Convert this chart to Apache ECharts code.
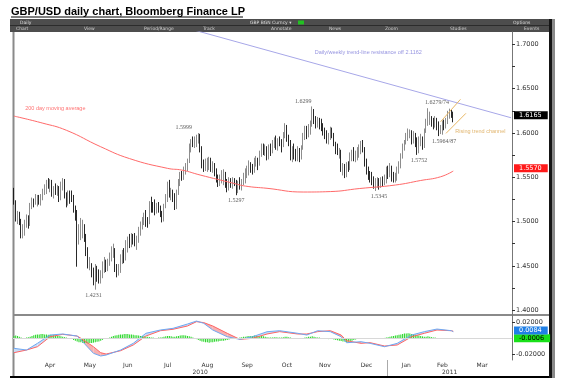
<!DOCTYPE html>
<html><head><meta charset="utf-8">
<script src="https://cdn.jsdelivr.net/npm/echarts@6/dist/echarts.min.js"></script>
<style>html,body{margin:0;padding:0;background:#fff}#c{width:569px;height:387px}</style>
</head><body><div id="c"></div>
<script>
// ---------------- DATA ----------------
const titleText = 'GBP/USD daily chart, Bloomberg Finance LP';
const firstDate = [2010, 2, 18];   // 18 Mar 2010 (weekday axis)
const slotCount = 276;             // weekdays shown on the axis (to early Apr 2011)
const firstOpen = 1.534;

// daily bars: [low, high, close]
const mar2010 = [[1.519,1.538,1.522],[1.500,1.524,1.503],[1.497,1.512,1.509],[1.496,1.511,1.500],[1.481,1.503,1.485],[1.481,1.497,1.489],[1.484,1.502,1.494],[1.493,1.508,1.503],[1.492,1.507,1.497],[1.495,1.521,1.518]];
const apr2010 = [[1.514,1.527,1.523],[1.516,1.526,1.520],[1.519,1.531,1.523],[1.517,1.530,1.527],[1.519,1.530,1.521],[1.518,1.531,1.529],[1.524,1.537,1.534],[1.530,1.542,1.536],[1.531,1.547,1.544],[1.537,1.549,1.541],[1.533,1.548,1.546],[1.528,1.547,1.531],[1.526,1.540,1.538],[1.530,1.543,1.535],[1.529,1.541,1.539],[1.522,1.540,1.526],[1.524,1.545,1.541],[1.535,1.549,1.543],[1.526,1.548,1.529],[1.516,1.533,1.519],[1.518,1.535,1.530],[1.520,1.535,1.529]];
const may2010 = [[1.522,1.535,1.527],[1.510,1.530,1.514],[1.501,1.518,1.508],[1.449,1.513,1.479],[1.474,1.497,1.479],[1.479,1.504,1.492],[1.481,1.502,1.494],[1.477,1.497,1.484],[1.461,1.486,1.465],[1.447,1.471,1.451],[1.445,1.460,1.452],[1.437,1.453,1.441],[1.428,1.448,1.433],[1.4231,1.452,1.446],[1.432,1.450,1.441],[1.430,1.446,1.437],[1.430,1.445,1.442],[1.436,1.455,1.447],[1.442,1.460,1.455],[1.443,1.457,1.448],[1.444,1.458,1.453]];
const jun2010 = [[1.450,1.465,1.461],[1.455,1.472,1.467],[1.459,1.475,1.468],[1.443,1.470,1.447],[1.437,1.452,1.442],[1.439,1.452,1.444],[1.442,1.463,1.456],[1.452,1.468,1.465],[1.453,1.470,1.459],[1.456,1.479,1.471],[1.465,1.483,1.478],[1.470,1.486,1.474],[1.471,1.487,1.483],[1.474,1.486,1.480],[1.472,1.487,1.477],[1.468,1.484,1.479],[1.476,1.494,1.490],[1.484,1.500,1.497],[1.491,1.505,1.502],[1.496,1.510,1.506],[1.494,1.513,1.498],[1.493,1.505,1.496]];
const jul2010 = [[1.497,1.523,1.519],[1.510,1.528,1.518],[1.510,1.522,1.516],[1.507,1.525,1.515],[1.509,1.521,1.517],[1.510,1.522,1.514],[1.505,1.518,1.509],[1.499,1.512,1.502],[1.500,1.520,1.517],[1.515,1.531,1.526],[1.522,1.545,1.541],[1.527,1.547,1.530],[1.524,1.538,1.533],[1.522,1.536,1.527],[1.513,1.532,1.517],[1.514,1.536,1.533],[1.530,1.548,1.544],[1.540,1.556,1.553],[1.546,1.557,1.550],[1.547,1.562,1.557],[1.553,1.566,1.561],[1.557,1.571,1.567]];
const aug2010 = [[1.566,1.588,1.583],[1.578,1.593,1.590],[1.584,1.596,1.588],[1.583,1.596,1.592],[1.584,1.598,1.594],[1.588,1.5999,1.596],[1.578,1.599,1.582],[1.560,1.585,1.564],[1.556,1.570,1.560],[1.557,1.571,1.561],[1.556,1.572,1.565],[1.558,1.573,1.569],[1.556,1.572,1.560],[1.555,1.568,1.563],[1.551,1.566,1.556],[1.544,1.560,1.548],[1.539,1.553,1.544],[1.540,1.553,1.549],[1.543,1.558,1.553],[1.541,1.559,1.555],[1.538,1.556,1.542],[1.533,1.548,1.538]];
const sep2010 = [[1.535,1.550,1.546],[1.538,1.549,1.542],[1.537,1.550,1.546],[1.540,1.549,1.545],[1.5297,1.547,1.534],[1.532,1.546,1.543],[1.536,1.550,1.540],[1.535,1.548,1.545],[1.541,1.555,1.550],[1.543,1.560,1.556],[1.549,1.563,1.557],[1.552,1.569,1.564],[1.555,1.567,1.559],[1.553,1.565,1.556],[1.555,1.572,1.567],[1.562,1.574,1.570],[1.558,1.572,1.562],[1.563,1.580,1.577],[1.573,1.588,1.584],[1.575,1.588,1.581],[1.574,1.587,1.583],[1.569,1.585,1.572]];
const oct2010 = [[1.570,1.587,1.583],[1.574,1.588,1.578],[1.577,1.592,1.588],[1.583,1.595,1.590],[1.581,1.597,1.584],[1.580,1.594,1.591],[1.585,1.596,1.589],[1.578,1.593,1.582],[1.584,1.601,1.598],[1.594,1.611,1.605],[1.590,1.609,1.594],[1.585,1.598,1.588],[1.569,1.592,1.573],[1.567,1.585,1.581],[1.570,1.588,1.575],[1.568,1.582,1.571],[1.568,1.585,1.580],[1.567,1.583,1.571],[1.570,1.586,1.582],[1.581,1.600,1.596],[1.592,1.608,1.603]];
const nov2010 = [[1.593,1.608,1.598],[1.595,1.610,1.604],[1.598,1.614,1.610],[1.607,1.6299,1.624],[1.610,1.627,1.616],[1.605,1.619,1.609],[1.606,1.618,1.613],[1.604,1.617,1.611],[1.602,1.616,1.608],[1.597,1.611,1.600],[1.593,1.606,1.598],[1.588,1.603,1.591],[1.587,1.600,1.594],[1.592,1.607,1.603],[1.594,1.606,1.598],[1.585,1.600,1.589],[1.576,1.590,1.580],[1.575,1.588,1.578],[1.571,1.583,1.580],[1.556,1.581,1.559],[1.552,1.566,1.561],[1.549,1.565,1.555]];
const dec2010 = [[1.550,1.567,1.563],[1.556,1.568,1.560],[1.558,1.578,1.574],[1.568,1.581,1.577],[1.568,1.584,1.571],[1.567,1.580,1.573],[1.569,1.584,1.579],[1.572,1.587,1.581],[1.576,1.591,1.586],[1.578,1.592,1.582],[1.562,1.584,1.566],[1.553,1.571,1.558],[1.547,1.562,1.551],[1.544,1.557,1.548],[1.541,1.556,1.546],[1.537,1.551,1.541],[1.5345,1.549,1.544],[1.538,1.550,1.545],[1.536,1.549,1.540],[1.538,1.550,1.546],[1.540,1.551,1.543],[1.541,1.553,1.547],[1.543,1.562,1.558]];
const jan2011 = [[1.548,1.563,1.553],[1.550,1.566,1.561],[1.545,1.563,1.549],[1.544,1.556,1.547],[1.544,1.555,1.548],[1.546,1.562,1.557],[1.554,1.568,1.564],[1.560,1.577,1.574],[1.571,1.588,1.584],[1.580,1.592,1.586],[1.587,1.600,1.595],[1.591,1.605,1.600],[1.594,1.604,1.601],[1.587,1.603,1.592],[1.588,1.602,1.598],[1.584,1.600,1.589],[1.5752,1.595,1.578],[1.577,1.596,1.592],[1.585,1.599,1.594],[1.581,1.596,1.585],[1.583,1.605,1.601]];
const feb2011 = [[1.600,1.616,1.612],[1.608,1.6279,1.616],[1.609,1.624,1.618],[1.607,1.619,1.611],[1.604,1.617,1.609],[1.606,1.619,1.614],[1.603,1.617,1.611],[1.5964,1.613,1.600],[1.5987,1.609,1.601],[1.598,1.614,1.609],[1.603,1.615,1.608],[1.605,1.617,1.613],[1.610,1.625,1.621],[1.616,1.6274,1.624],[1.617,1.626,1.622],[1.612,1.624,1.6165]];

// 200 day moving average, read at points: [bar index, value]
const ma200 = [[0,1.619],[16,1.611],[29,1.603],[48,1.5844],[64,1.571],[85,1.560],[93,1.558],[103,1.5525],[121,1.5434],[128,1.540],[140,1.5375],[160,1.5333],[175,1.5338],[191,1.5372],[211,1.5412],[225,1.5463],[236,1.5505],[243,1.557]];
// annotation lines: [bar index, price]
const resistanceLine = [[100,1.7159],[275,1.6171]];
const channelUpper = [[236,1.6126],[247,1.6379]];
const channelLower = [[239,1.5995],[250,1.6221]];

// MACD panel, read at points
const macdIdx  = [0,7,13,20,27,35,38,44,48,51,59,66,73,81,88,96,101,105,110,118,125,132,140,147,157,162,168,175,181,184,192,197,205,212,220,227,234,242,243];
const macdBlue = [-0.0127,-0.0149,-0.0064,0.0042,0.0055,0.0029,-0.0043,-0.0191,-0.0225,-0.0213,-0.0149,-0.0064,0.0064,0.0106,0.0127,0.0182,0.022,0.0191,0.0106,0.002,-0.0013,0.002,0.0084,0.0097,0.0064,0.0042,0.0097,0.0085,0.002,-0.0056,-0.0043,-0.0064,-0.0107,-0.0064,0.0042,0.0085,0.0118,0.0097,0.0084];
const macdRed  = [-0.0183,-0.0149,-0.0107,0.002,0.0051,0.0029,-0.0013,-0.0107,-0.0183,-0.02,-0.0158,-0.0085,0.0029,0.0097,0.0115,0.0157,0.0212,0.02,0.0157,0.0064,-0.0013,0,0.0055,0.0085,0.0055,0.0055,0.0085,0.0097,0.0042,-0.003,-0.0064,-0.0055,-0.0098,-0.0085,0.002,0.0064,0.0106,0.0097,0.009];
// MACD histogram, daily
const histMar10 = [.003,.0035,.003,.002,.001,.0005,.0005,.001,.0015,.002];
const histApr10 = [.003,.004,.0045,.005,.005,.0055,.0055,.005,.005,.0045,.0045,.004,.004,.0035,.003,.003,.0025,.002,.0015,.001,.0005,0];
const histMay10 = [-.001,-.002,-.003,-.004,-.005,-.005,-.0055,-.006,-.006,-.0065,-.006,-.006,-.0055,-.005,-.0045,-.004,-.003,-.002,-.001,-.0005,0];
const histJun10 = [.001,.002,.003,.0035,.004,.0045,.005,.005,.0055,.0055,.0055,.005,.005,.0045,.004,.004,.0035,.003,.003,.0025,.002,.002];
const histJul10 = [.0015,.001,.001,.0005,.0005,.001,.001,.0015,.002,.0025,.003,.003,.0025,.002,.002,.0025,.003,.0035,.004,.004,.0035,.003];
const histAug10 = [.0025,.002,.001,0,-.001,-.002,-.003,-.004,-.0045,-.005,-.005,-.0055,-.005,-.005,-.0045,-.004,-.004,-.0035,-.003,-.003,-.0025,-.002];
const histSep10 = [-.0015,-.001,-.001,-.0005,0,.0005,.001,.0015,.002,.002,.0025,.003,.003,.003,.0035,.003,.003,.0025,.003,.0025,.002,.0015];
const histOct10 = [.001,.001,.001,.0015,.0015,.001,.001,.001,.0015,.002,.002,.0015,.001,.0005,0,-.0005,-.001,-.0005,0,.0005,.001];
const histNov10 = [.0015,.002,.002,.0025,.002,.0015,.001,.001,.0005,0,-.0005,-.001,-.001,-.0005,-.001,-.0015,-.002,-.0025,-.003,-.0035,-.004,-.004];
const histDec10 = [-.0045,-.004,-.0035,-.003,-.002,-.0015,-.001,-.0005,0,.0005,.0005,0,-.0005,-.001,-.001,-.0005,0,-.0005,-.001,-.0005,0,.0005,.001];
const histJan11 = [.0015,.002,.0025,.003,.0035,.004,.0045,.005,.0055,.006,.006,.0065,.006,.0055,.005,.0045,.004,.0035,.003,.0025,.002];
const histFeb11 = [.002,.0025,.002,.0015,.001,.001,.0005,.0005,.0005,.0005,0,0,-.0005,-.0005,-.0005,-.0006];

// axis tick values
const priceTickLabels = [1.40,1.45,1.50,1.55,1.60,1.65,1.70];
const priceTicks = [1.40,1.425,1.45,1.475,1.50,1.525,1.55,1.575,1.60,1.625,1.65,1.675,1.70];
const macdTickLabels = [-0.02,0.02];
const monthNames = ['Jan','Feb','Mar','Apr','May','Jun','Jul','Aug','Sep','Oct','Nov','Dec'];

// annotations: [bar index, price, text, side]
const swingLabels = [
  [94,1.5999,'1.5999','above'],[44,1.4231,'1.4231','below'],[123,1.5297,'1.5297','below'],
  [160,1.6299,'1.6299','above'],[202,1.5345,'1.5345','below'],[224,1.5752,'1.5752','below'],
  [234,1.6279,'1.6279/74','above'],[238,1.5964,'1.5964/87','below']
];
const noteLabels = [
  [6,1.628,'200 day moving average','ma'],
  [196,1.691,'Daily/weekly trend-line resistance off 2.1162','trend'],
  [258,1.6021,'Rising trend channel','channel']
];
const toolbarTop = [['Daily',20],['GBP BGN Curncy \u25BE',250],['Options',513]];
const toolbarMenu = [['Chart',16],['View',84],['Period/Range',144],['Track',203],['Annotate',271],['News',329],['Zoom',385],['Studies',450],['Events',524]];

// ---------------- BUILD ----------------
const categories = [];
{ const d = new Date(Date.UTC(firstDate[0], firstDate[1], firstDate[2]));
  while (categories.length < slotCount) { const w = d.getUTCDay(); if (w !== 0 && w !== 6) categories.push(d.toISOString().slice(0,10)); d.setUTCDate(d.getUTCDate()+1); } }
const bars = [].concat(mar2010,apr2010,may2010,jun2010,jul2010,aug2010,sep2010,oct2010,nov2010,dec2010,jan2011,feb2011);
const ohlc = bars.map((b,i)=>[i===0?firstOpen:bars[i-1][2], b[2], b[0], b[1]]);
const hist = [].concat(histMar10,histApr10,histMay10,histJun10,histJul10,histAug10,histSep10,histOct10,histNov10,histDec10,histJan11,histFeb11);
const lastClose = bars[bars.length-1][2];
const lastMA = ma200[ma200.length-1][1];
const lastBlue = macdBlue[macdBlue.length-1];
const lastHist = hist[hist.length-1];

const monthStart = new Set(), monthLabel = new Map(), yearLabel = new Map();
const mg = {}, yg = {};
categories.forEach((d,i)=>{ const k=d.slice(0,7); (mg[k]=mg[k]||[]).push(i); (yg[d.slice(0,4)]=yg[d.slice(0,4)]||[]).push(i);
  if (i>0 && categories[i-1].slice(0,7)!==k) monthStart.add(i); });
Object.keys(mg).forEach(k=>{ const a=mg[k]; const fd=+categories[a[0]].slice(8), ld=+categories[a[a.length-1]].slice(8);
  if (fd<=3 && ld>=26) monthLabel.set(Math.floor((a[0]+a[a.length-1])/2), monthNames[+k.slice(5)-1]); });
Object.keys(yg).forEach(y=>{ const a=yg[y]; yearLabel.set(Math.floor((a[0]+a[a.length-1])/2), y); });

const FONT = 'DejaVu Sans';
const CLEAR = 'rgba(0,0,0,0)';
const tagLabel = (txt, bg, fg) => ({show:true, position:'end', distance:2, formatter:txt, backgroundColor:bg, color:fg,
  fontFamily:FONT, fontSize:6.5, padding:[1,6,0,5], lineHeight:7});
const noteStyle = {ma:{color:'#ff4d4d', pos:'right'}, trend:{color:'#7a78d8', pos:'inside'}, channel:{color:'#d9a24a', pos:'inside'}};

const graphic = [
  {type:'line', shape:{x1:11,y1:17,x2:243,y2:17}, style:{stroke:'#000', lineWidth:1}},
  {type:'rect', shape:{x:10,y:19,width:545,height:13}, style:{fill:'#4d4d4d'}},
  {type:'line', shape:{x1:10,y1:25.5,x2:555,y2:25.5}, style:{stroke:'#2c2c2c', lineWidth:1}},
  {type:'rect', shape:{x:298,y:20.5,width:6,height:4}, style:{fill:'#22c022'}},
  {type:'rect', shape:{x:12.5,y:32,width:2,height:345}, style:{fill:'#8a8a8a'}},
  {type:'rect', shape:{x:13,y:314,width:536,height:2}, style:{fill:'#8a8a8a'}},
  {type:'rect', shape:{x:10,y:376,width:545,height:2}, style:{fill:'#000'}},
  {type:'rect', shape:{x:549,y:19,width:3,height:359}, style:{fill:'#151515'}},
  {type:'rect', shape:{x:552,y:19,width:3,height:359}, style:{fill:'#8a8a8a'}},
  {type:'line', shape:{x1:387.5,y1:360,x2:387.5,y2:376}, style:{stroke:'#aaa', lineWidth:1}}
];
toolbarTop.forEach(t=>graphic.push({type:'text', style:{text:t[0], x:t[1], y:22.5, fill:'#ddd', font:'4.5px '+FONT, verticalAlign:'middle'}}));
toolbarMenu.forEach(t=>graphic.push({type:'text', style:{text:t[0], x:t[1], y:28.8, fill:'#d0d0d0', font:'4.5px '+FONT, verticalAlign:'middle'}}));

const option = {
  animation:false,
  backgroundColor:'#fff',
  title:{text:titleText, left:6, top:1, textStyle:{fontFamily:'Liberation Sans', fontWeight:'bold', fontSize:11, color:'#000'}},
  graphic: graphic,
  grid:[{left:13, right:57, top:32, height:283},{left:13, right:57, top:315, height:45}],
  xAxis:[
    {type:'category', gridIndex:0, data:categories, boundaryGap:true, show:false},
    {type:'category', gridIndex:1, data:categories, boundaryGap:true,
      axisLine:{lineStyle:{color:'#8a8a8a'}},
      axisTick:{interval:(i)=>monthStart.has(i), length:2, lineStyle:{color:'#666'}},
      axisLabel:{interval:(i)=>monthLabel.has(i), formatter:(v,i)=>monthLabel.get(i)||'', fontFamily:FONT, fontSize:6, color:'#333', margin:2}},
    {type:'category', gridIndex:1, data:categories, boundaryGap:true, position:'bottom', offset:7,
      axisLine:{show:false}, axisTick:{show:false},
      axisLabel:{interval:(i)=>yearLabel.has(i), formatter:(v,i)=>yearLabel.get(i)||'', fontFamily:FONT, fontSize:6, color:'#333', margin:2}}
  ],
  yAxis:[
    {type:'value', gridIndex:0, position:'right', min:1.3945, max:1.7139, splitLine:{show:false},
      axisLine:{show:true, lineStyle:{color:'#777'}},
      axisTick:{show:true, customValues:priceTicks, length:3, lineStyle:{color:'#333'}},
      axisLabel:{customValues:priceTickLabels, formatter:(v)=>v.toFixed(4), fontFamily:FONT, fontSize:6.5, color:'#333', margin:4}},
    {type:'value', gridIndex:1, position:'right', min:-0.0276, max:0.0297, splitLine:{show:false},
      axisLine:{show:true, lineStyle:{color:'#777'}},
      axisTick:{show:true, customValues:macdTickLabels, length:3, lineStyle:{color:'#333'}},
      axisLabel:{customValues:macdTickLabels, formatter:(v)=>v.toFixed(5), fontFamily:FONT, fontSize:6.5, color:'#333', margin:4}}
  ],
  series:[
    {type:'candlestick', xAxisIndex:0, yAxisIndex:0, data:ohlc, barWidth:1,
      itemStyle:{color:'#808080', color0:'#111', borderColor:'#808080', borderColor0:'#111', borderWidth:0.9},
      markLine:{silent:true, symbol:'none', lineStyle:{color:CLEAR}, data:[{yAxis:lastClose, label:tagLabel(lastClose.toFixed(4),'#000','#fff')}]}},
    {type:'line', xAxisIndex:0, yAxisIndex:0, data:ma200, smooth:true, symbol:'none', silent:true,
      lineStyle:{color:'#ff6a6a', width:1},
      markLine:{silent:true, symbol:'none', lineStyle:{color:CLEAR}, data:[{yAxis:lastMA, label:tagLabel(lastMA.toFixed(4),'#ff1a1a','#fff')}]}},
    {type:'line', xAxisIndex:0, yAxisIndex:0, data:resistanceLine, symbol:'none', silent:true, lineStyle:{color:'#a7a7e8', width:1}},
    {type:'line', xAxisIndex:0, yAxisIndex:0, data:channelUpper, symbol:'none', silent:true, lineStyle:{color:'#e9b866', width:1}},
    {type:'line', xAxisIndex:0, yAxisIndex:0, data:channelLower, symbol:'none', silent:true, lineStyle:{color:'#e9b866', width:1}},
    {type:'scatter', xAxisIndex:0, yAxisIndex:0, silent:true, symbolSize:1, itemStyle:{color:'transparent'},
      data:swingLabels.map(s=>({value:[s[0],s[1]], label:{show:true, formatter:s[2], position:s[3]==='above'?'top':'bottom', distance:2,
        fontFamily:'Liberation Serif', fontSize:6, color:'#333'}}))},
    {type:'scatter', xAxisIndex:0, yAxisIndex:0, silent:true, symbolSize:1, itemStyle:{color:'transparent'},
      data:noteLabels.map(s=>({value:[s[0],s[1]], label:{show:true, formatter:s[2], position:noteStyle[s[3]].pos, distance:0,
        fontFamily:'Liberation Sans', fontSize:5.5, color:noteStyle[s[3]].color}}))},
    {type:'custom', xAxisIndex:1, yAxisIndex:1, silent:true,
      data:macdIdx.slice(0,-1).map((x,k)=>[x, macdBlue[k], macdRed[k], macdIdx[k+1], macdBlue[k+1], macdRed[k+1]]),
      encode:{x:[0,3], y:[1,2,4,5]},
      renderItem:function(params, api){
        const a=api.coord([api.value(0),api.value(1)]), b=api.coord([api.value(3),api.value(4)]);
        const c=api.coord([api.value(3),api.value(5)]), d=api.coord([api.value(0),api.value(2)]);
        const redAbove = api.value(2)+api.value(5) > api.value(1)+api.value(4);
        return {type:'polygon', shape:{points:[a,b,c,d]}, style:{fill: redAbove ? '#f7b0b0' : '#c9ddf6'}};
      }},
    {type:'bar', xAxisIndex:1, yAxisIndex:1, data:hist, barWidth:1.1, silent:true, itemStyle:{color:'#2fd82f'},
      markLine:{silent:true, symbol:'none', data:[
        {yAxis:0, lineStyle:{color:'#d8d8d8', width:1, type:'solid'}, label:{show:false}},
        {yAxis:lastHist, lineStyle:{color:CLEAR}, label:tagLabel(lastHist.toFixed(4),'#19e019','#000')}]}},
    {type:'line', xAxisIndex:1, yAxisIndex:1, data:macdIdx.map((x,k)=>[x,macdRed[k]]), symbol:'none', silent:true, lineStyle:{color:'#ff6464', width:1}},
    {type:'line', xAxisIndex:1, yAxisIndex:1, data:macdIdx.map((x,k)=>[x,macdBlue[k]]), symbol:'none', silent:true, lineStyle:{color:'#6fa8f2', width:1},
      markLine:{silent:true, symbol:'none', lineStyle:{color:CLEAR}, data:[{yAxis:lastBlue, label:tagLabel(lastBlue.toFixed(4),'#1f7fe6','#fff')}]}}
  ]
};
const chart = echarts.init(document.getElementById('c'));
chart.setOption(option);
</script></body></html>
